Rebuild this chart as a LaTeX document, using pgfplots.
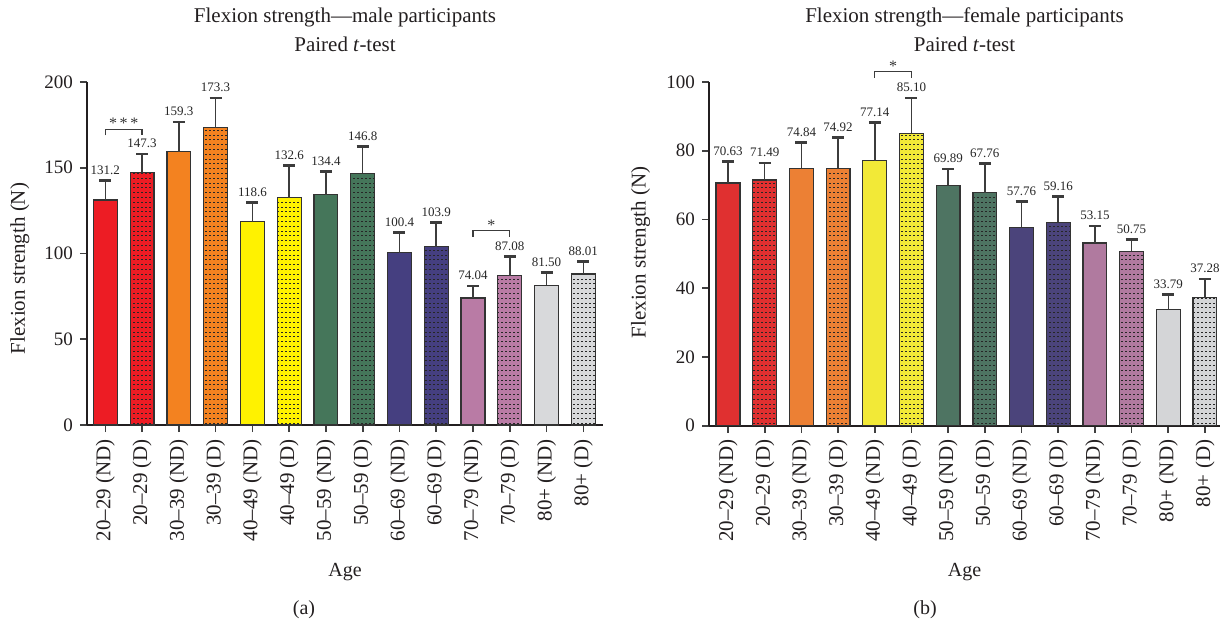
\documentclass[border=0pt]{standalone}
\usepackage{fontspec}
\setmainfont{Liberation Serif}
\usepackage{pgfplots}
\pgfplotsset{compat=1.18}
\usetikzlibrary{patterns}
\pgfdeclarepatternformonly{dashrows}{\pgfpoint{-0.1pt}{-0.1pt}}{\pgfpoint{2.1pt}{2.5pt}}{\pgfpoint{2pt}{2.4pt}}{\pgfpathrectangle{\pgfpoint{0.4pt}{0.9pt}}{\pgfpoint{1.1pt}{0.45pt}}\pgfusepath{fill}}

\definecolor{mRed}{RGB}{237,28,36}
\definecolor{mOrange}{RGB}{243,130,32}
\definecolor{mYellow}{RGB}{255,242,0}
\definecolor{mGreen}{RGB}{69,118,90}
\definecolor{mNavy}{RGB}{69,63,128}
\definecolor{mPink}{RGB}{185,123,165}
\definecolor{mGrey}{RGB}{216,217,219}
\definecolor{fRed}{RGB}{224,48,48}
\definecolor{fOrange}{RGB}{236,128,52}
\definecolor{fYellow}{RGB}{242,233,55}
\definecolor{fGreen}{RGB}{78,116,98}
\definecolor{fNavy}{RGB}{75,68,123}
\definecolor{fPink}{RGB}{176,122,159}
\definecolor{fGrey}{RGB}{212,213,215}
\definecolor{ink}{RGB}{35,31,32}
\definecolor{errc}{RGB}{60,60,60}

\pgfplotsset{
  panel/.style={
    scale only axis, clip=false,
    axis x line*=bottom, axis y line*=left,
    axis line style={line width=0.8pt, color=ink},
    tick align=outside, major tick length=3.5pt,
    tick style={line width=0.8pt, color=black!75},
    ymin=0, xtick={0,...,13},
    xticklabels={20--29 (ND),20--29 (D),30--39 (ND),30--39 (D),40--49 (ND),40--49 (D),50--59 (ND),50--59 (D),60--69 (ND),60--69 (D),70--79 (ND),70--79 (D),80+ (ND),80+ (D)},
    xticklabel style={rotate=90, anchor=east, font=\fontsize{10.5}{12}\selectfont, text=ink},
    yticklabel style={font=\fontsize{9.5}{11}\selectfont, text=ink},
    /pgf/number format/assume math mode=true,
    every axis x label/.style={at={(axis description cs:0.5,0)}, anchor=base, font=\fontsize{10}{12}\selectfont, text=ink},
    every axis y label/.style={rotate=90, anchor=center, font=\fontsize{10.5}{12}\selectfont, text=ink},
  },
  ND/.style={ybar, bar width=0.65, bar shift=0pt, draw=black!80, line width=0.6pt,
    error bars/y dir=plus, error bars/y explicit,
    error bars/error bar style={line width=0.75pt, color=errc},
    error bars/error mark options={rotate=90, line width=1.3pt, color=errc, mark size=3pt}},
  D/.style={ND, postaction={pattern=dashrows, pattern color=black!85}},
  vals/.style={draw=none, mark=none, nodes near coords, point meta=explicit symbolic,
    every node near coord/.append style={anchor=south, inner sep=0pt, yshift=2.8pt,
      font=\fontsize{6.5}{7}\selectfont, text=black!85}},
}

\begin{document}
\begin{tikzpicture}
\useasboundingbox (0,0) rectangle (610.5pt,313.5pt);

% ---------------- (a) male ----------------
\begin{axis}[panel, at={(43.5pt,101pt)}, anchor=south west,
  width=258pt, height=171.5pt,
  xmin=-0.498, xmax=13.535, ymax=200, ytick={0,50,100,150,200},
  xlabel={Age}, xlabel style={yshift=-75.5pt},
  ylabel={Flexion strength (N)}, ylabel style={at={(axis description cs:-0.13,0.456)}},
]
\addplot[ND, fill=mRed]    coordinates {(0,131.2) +- (0,11.3)};
\addplot[D,  fill=mRed]    coordinates {(1,147.3) +- (0,10.7)};
\addplot[ND, fill=mOrange] coordinates {(2,159.3) +- (0,17.4)};
\addplot[D,  fill=mOrange] coordinates {(3,173.3) +- (0,17.4)};
\addplot[ND, fill=mYellow] coordinates {(4,118.6) +- (0,11.3)};
\addplot[D,  fill=mYellow] coordinates {(5,132.6) +- (0,18.6)};
\addplot[ND, fill=mGreen]  coordinates {(6,134.4) +- (0,13.3)};
\addplot[D,  fill=mGreen]  coordinates {(7,146.8) +- (0,15.7)};
\addplot[ND, fill=mNavy]   coordinates {(8,100.4) +- (0,12.0)};
\addplot[D,  fill=mNavy]   coordinates {(9,103.9) +- (0,14.1)};
\addplot[ND, fill=mPink]   coordinates {(10,74.04) +- (0,7.0)};
\addplot[D,  fill=mPink]   coordinates {(11,87.08) +- (0,11.1)};
\addplot[ND, fill=mGrey]   coordinates {(12,81.50) +- (0,7.3)};
\addplot[D,  fill=mGrey]   coordinates {(13,88.01) +- (0,7.2)};
\addplot[vals] coordinates {
 (0,142.5)[131.2] (1,158.0)[147.3] (2,176.7)[159.3] (3,190.7)[173.3]
 (4,129.9)[118.6] (5,151.2)[132.6] (6,147.7)[134.4] (7,162.5)[146.8]
 (8,112.4)[100.4] (9,118.0)[103.9] (10,81.04)[74.04] (11,98.18)[87.08]
 (12,88.8)[81.50] (13,95.21)[88.01]};
% significance brackets
\draw[line width=0.7pt, color=errc] (axis cs:0,168.9) -- (axis cs:0,172.4) -- (axis cs:1,172.4) -- (axis cs:1,168.9);
\node[anchor=base, inner sep=0pt, font=\fontsize{8}{9}\selectfont, text=black!80] at (axis cs:0.5,172.6) {*\,*\,*};
\draw[line width=0.7pt, color=errc] (axis cs:10,109.8) -- (axis cs:10,113.3) -- (axis cs:11,113.3) -- (axis cs:11,109.8);
\node[anchor=base, inner sep=0pt, font=\fontsize{8}{9}\selectfont, text=black!80] at (axis cs:10.5,113.5) {*};
\end{axis}

% ---------------- (b) female ----------------
\begin{axis}[panel, at={(354.5pt,100.65pt)}, anchor=south west,
  width=255.5pt, height=171.85pt,
  xmin=-0.518, xmax=13.41, ymax=100, ytick={0,20,40,60,80,100},
  xlabel={Age}, xlabel style={yshift=-75.15pt},
  ylabel={Flexion strength (N)}, ylabel style={at={(axis description cs:-0.134,0.504)}},
]
\addplot[ND, fill=fRed]    coordinates {(0,70.63) +- (0,6.2)};
\addplot[D,  fill=fRed]    coordinates {(1,71.49) +- (0,4.9)};
\addplot[ND, fill=fOrange] coordinates {(2,74.84) +- (0,7.5)};
\addplot[D,  fill=fOrange] coordinates {(3,74.92) +- (0,8.9)};
\addplot[ND, fill=fYellow] coordinates {(4,77.14) +- (0,11.0)};
\addplot[D,  fill=fYellow] coordinates {(5,85.10) +- (0,10.2)};
\addplot[ND, fill=fGreen]  coordinates {(6,69.89) +- (0,4.8)};
\addplot[D,  fill=fGreen]  coordinates {(7,67.76) +- (0,8.6)};
\addplot[ND, fill=fNavy]   coordinates {(8,57.76) +- (0,7.4)};
\addplot[D,  fill=fNavy]   coordinates {(9,59.16) +- (0,7.5)};
\addplot[ND, fill=fPink]   coordinates {(10,53.15) +- (0,5.0)};
\addplot[D,  fill=fPink]   coordinates {(11,50.75) +- (0,3.5)};
\addplot[ND, fill=fGrey]   coordinates {(12,33.79) +- (0,4.3)};
\addplot[D,  fill=fGrey]   coordinates {(13,37.28) +- (0,5.4)};
\addplot[vals] coordinates {
 (0,76.83)[70.63] (1,76.39)[71.49] (2,82.34)[74.84] (3,83.82)[74.92]
 (4,88.14)[77.14] (5,95.30)[85.10] (6,74.69)[69.89] (7,76.36)[67.76]
 (8,65.16)[57.76] (9,66.66)[59.16] (10,58.15)[53.15] (11,54.25)[50.75]
 (12,38.09)[33.79] (13,42.68)[37.28]};
\draw[line width=0.7pt, color=errc] (axis cs:4,101.3) -- (axis cs:4,103.0) -- (axis cs:5,103.0) -- (axis cs:5,101.3);
\node[anchor=base, inner sep=0pt, font=\fontsize{8}{9}\selectfont, text=black!80] at (axis cs:4.5,103.2) {*};
\end{axis}

% titles and panel letters
\begin{scope}[every node/.style={anchor=base, inner sep=0pt, text=ink, font=\fontsize{10.5}{12}\selectfont}]
\node at (172.5pt,302.2pt) {Flexion strength---male participants};
\node at (172.5pt,287.7pt) {Paired \textit{t}-test};
\node at (482.25pt,302.2pt) {Flexion strength---female participants};
\node at (482.25pt,287.7pt) {Paired \textit{t}-test};
\node[font=\fontsize{10}{12}\selectfont] at (152pt,6.5pt) {(a)};
\node[font=\fontsize{10}{12}\selectfont] at (462.5pt,6.5pt) {(b)};
\end{scope}
\end{tikzpicture}
\end{document}
